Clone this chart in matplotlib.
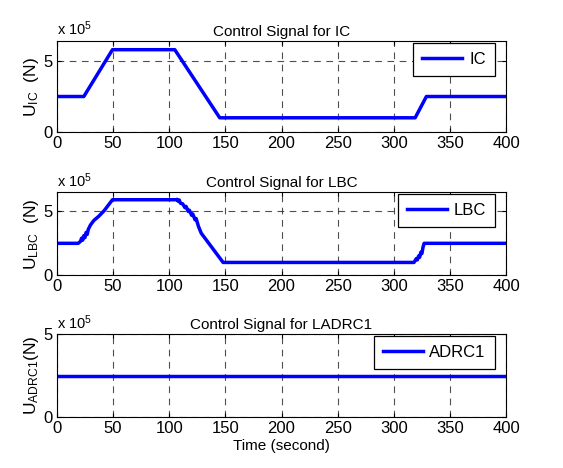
import matplotlib
matplotlib.use('Agg')
import matplotlib.pyplot as plt

plt.rcParams['font.family'] = ['Liberation Sans', 'DejaVu Sans']
plt.rcParams['mathtext.fontset'] = 'custom'
plt.rcParams['mathtext.rm'] = 'Liberation Sans'
plt.rcParams['mathtext.it'] = 'Liberation Sans:italic'

# 데이터 (단위: x 10^5 N)
t_ic = [0, 24, 49.5, 105, 145, 319, 329, 400]
u_ic = [2.5, 2.5, 5.8, 5.8, 1.0, 1.0, 2.5, 2.5]

t_lbc = [0, 19, 21, 22, 23, 24, 25, 26, 27, 28, 30, 33, 37, 42, 49.5,
         106, 107, 108, 109, 110, 112, 114, 115, 117, 118, 120, 121, 123, 124, 126, 128.5,
         148, 318, 319, 320, 321, 322, 323, 324, 325, 326, 327, 400]
u_lbc = [2.5, 2.5, 2.65, 2.9, 2.75, 3.1, 2.95, 3.35, 3.2, 3.6, 3.95, 4.3, 4.6, 5.05, 5.92,
         5.92, 5.95, 5.8, 5.9, 5.65, 5.6, 5.3, 5.4, 5.0, 5.1, 4.7, 4.8, 4.35, 4.45, 3.85, 3.3,
         1.0, 1.0, 1.15, 1.3, 1.2, 1.5, 1.4, 1.8, 1.7, 2.2, 2.5, 2.5]

t_adrc = [0, 400]
u_adrc = [2.5, 2.5]

titles = ['Control Signal for IC', 'Control Signal for LBC', 'Control Signal for LADRC1']
ylabels = [r'U$_{\rm IC}$  (N)', r'U$_{\rm LBC}$  (N)', r'U$_{\rm ADRC1}$(N)']
labels = ['IC', 'LBC', 'ADRC1']
ytops = [6.4, 6.5, 5.0]
series = [(t_ic, u_ic), (t_lbc, u_lbc), (t_adrc, u_adrc)]

fig = plt.figure(figsize=(5.63, 4.68), dpi=100)
boxes = [[0.101, 0.718, 0.798, 0.194],
         [0.101, 0.412, 0.798, 0.177],
         [0.101, 0.109, 0.798, 0.177]]

for i in range(3):
    ax = fig.add_axes(boxes[i])
    t, u = series[i]
    ax.plot(t, u, color='#0000ff', linewidth=2.5, label=labels[i])
    ax.set_xlim(0, 400)
    ax.set_ylim(0, ytops[i])
    ax.set_xticks(range(0, 401, 50))
    ax.set_yticks([0, 5])
    ax.tick_params(direction='in', top=True, right=True, labelsize=12, length=3, pad=3)
    ax.grid(True, color='#222222', linestyle=(0, (6, 5)), linewidth=0.8, alpha=0.8)
    ax.set_title(titles[i], fontsize=11, pad=4)
    ax.set_ylabel(ylabels[i], fontsize=12.5, labelpad=2)
    ax.text(0, 1.03, r'x 10$^5$', transform=ax.transAxes, fontsize=10.5, va='bottom')
    leg = ax.legend(loc='upper right', bbox_to_anchor=(0.975, 0.98), borderaxespad=0,
                    fontsize=12, fancybox=False, framealpha=1, edgecolor='black',
                    handlelength=2.4, borderpad=0.55, handletextpad=0.4)
    leg.get_frame().set_linewidth(0.9)
    if i == 2:
        ax.set_xlabel('Time (second)', fontsize=11, labelpad=2)

plt.savefig('out.png', dpi=100)
